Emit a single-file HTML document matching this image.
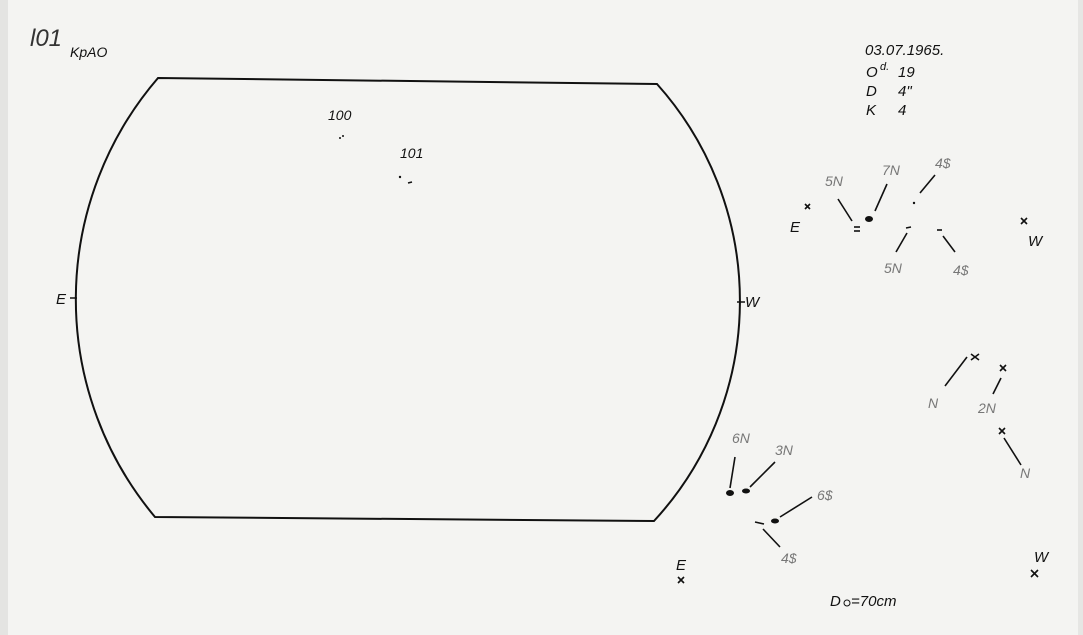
<!DOCTYPE html>
<html><head><meta charset="utf-8">
<style>
html,body{margin:0;padding:0;width:1083px;height:635px;overflow:hidden;background:#f3f3f1;}
svg{display:block}
text{font-family:"Liberation Sans",sans-serif;font-style:italic;}
</style></head><body>
<svg width="1083" height="635" viewBox="0 0 1083 635">
<rect x="0" y="0" width="1083" height="635" fill="#f4f4f2"/>
<rect x="0" y="0" width="8" height="635" fill="#e4e4e2"/>
<rect x="1078" y="0" width="5" height="635" fill="#e6e6e4"/>
<path d="M158,78 L657,84 A325,325 0 0 1 654,521 L155,517 A339,339 0 0 1 158,78 Z" fill="none" stroke="#111" stroke-width="2"/>
<line x1="70" y1="298" x2="77" y2="298" stroke="#111" stroke-width="1.5"/>
<line x1="737" y1="302" x2="745" y2="302" stroke="#111" stroke-width="1.5"/>
<text x="30" y="46" font-size="24" font-style="normal" fill="#333">l01</text>
<text x="70" y="57" font-size="14" fill="#111">KpAO</text>
<text x="328" y="120" font-size="14" fill="#111">100</text>
<text x="400" y="158" font-size="14" fill="#111">101</text>
<circle cx="340" cy="138" r="1" fill="#111"/><circle cx="343" cy="136" r="1" fill="#111"/>
<circle cx="400" cy="177" r="1.2" fill="#111"/><line x1="408" y1="183" x2="412" y2="182" stroke="#111" stroke-width="1.5"/>
<text x="56" y="304" font-size="15" fill="#111">E</text>
<text x="745" y="307" font-size="15" fill="#111">W</text>
<text x="865" y="55" font-size="15" fill="#111">03.07.1965.</text>
<text x="866" y="77" font-size="15" fill="#111">O</text><text x="880" y="70" font-size="11" fill="#111">d.</text><text x="898" y="77" font-size="15" fill="#111">19</text>
<text x="866" y="96" font-size="15" fill="#111">D</text><text x="898" y="96" font-size="15" fill="#111">4"</text>
<text x="866" y="115" font-size="15" fill="#111">K</text><text x="898" y="115" font-size="15" fill="#111">4</text>
<g fill="#777" font-size="14">
<text x="825" y="186">5N</text><text x="882" y="175">7N</text><text x="935" y="168">4$</text>
<text x="884" y="273">5N</text><text x="953" y="275">4$</text>
<text x="928" y="408">N</text><text x="978" y="413">2N</text><text x="1020" y="478">N</text>
<text x="732" y="443">6N</text><text x="775" y="455">3N</text><text x="817" y="500">6$</text><text x="781" y="563">4$</text>
</g>
<g fill="#111" font-size="15"><text x="790" y="232">E</text><text x="1028" y="246">W</text>
<text x="676" y="570">E</text><text x="1034" y="562">W</text></g>
<g stroke="#111" stroke-width="1.6" fill="none">
<path d="M805,204 l5,5 M810,204 l-5,5"/>
<path d="M1021,218 l6,6 M1027,218 l-6,6"/>
<path d="M678,577 l6,6 M684,577 l-6,6"/>
<path d="M1031,570 l7,7 M1038,570 l-7,7"/>
<path d="M971,354 l8,6 M979,354 l-8,6"/>
<path d="M1000,365 l6,6 M1006,365 l-6,6"/>
<path d="M999,428 l6,6 M1005,428 l-6,6"/>
<line x1="838" y1="199" x2="852" y2="221"/><line x1="887" y1="184" x2="875" y2="211"/>
<line x1="935" y1="175" x2="920" y2="193"/><line x1="907" y1="233" x2="896" y2="252"/>
<line x1="943" y1="236" x2="955" y2="252"/>
<line x1="967" y1="357" x2="945" y2="386"/><line x1="1001" y1="378" x2="993" y2="394"/>
<line x1="1004" y1="438" x2="1021" y2="465"/>
<line x1="735" y1="457" x2="730" y2="488"/><line x1="775" y1="462" x2="750" y2="487"/>
<line x1="812" y1="497" x2="780" y2="517"/><line x1="763" y1="529" x2="780" y2="547"/>
<line x1="854" y1="231" x2="860" y2="231"/><line x1="854" y1="227" x2="860" y2="227"/>
<line x1="906" y1="228" x2="911" y2="227"/><line x1="937" y1="230" x2="942" y2="230"/>
<line x1="755" y1="522" x2="764" y2="524"/>
</g>
<g fill="#111">
<ellipse cx="869" cy="219" rx="4" ry="3"/><circle cx="914" cy="203" r="1.2"/>
<ellipse cx="730" cy="493" rx="4" ry="3"/><ellipse cx="746" cy="491" rx="4" ry="2.5"/>
<ellipse cx="775" cy="521" rx="4" ry="2.5"/>
</g>
<text x="830" y="606" font-size="15" fill="#111">D</text><circle cx="847" cy="603" r="3" fill="none" stroke="#111" stroke-width="1"/><text x="851" y="606" font-size="15" fill="#111">=70cm</text>
</svg>
</body></html>
